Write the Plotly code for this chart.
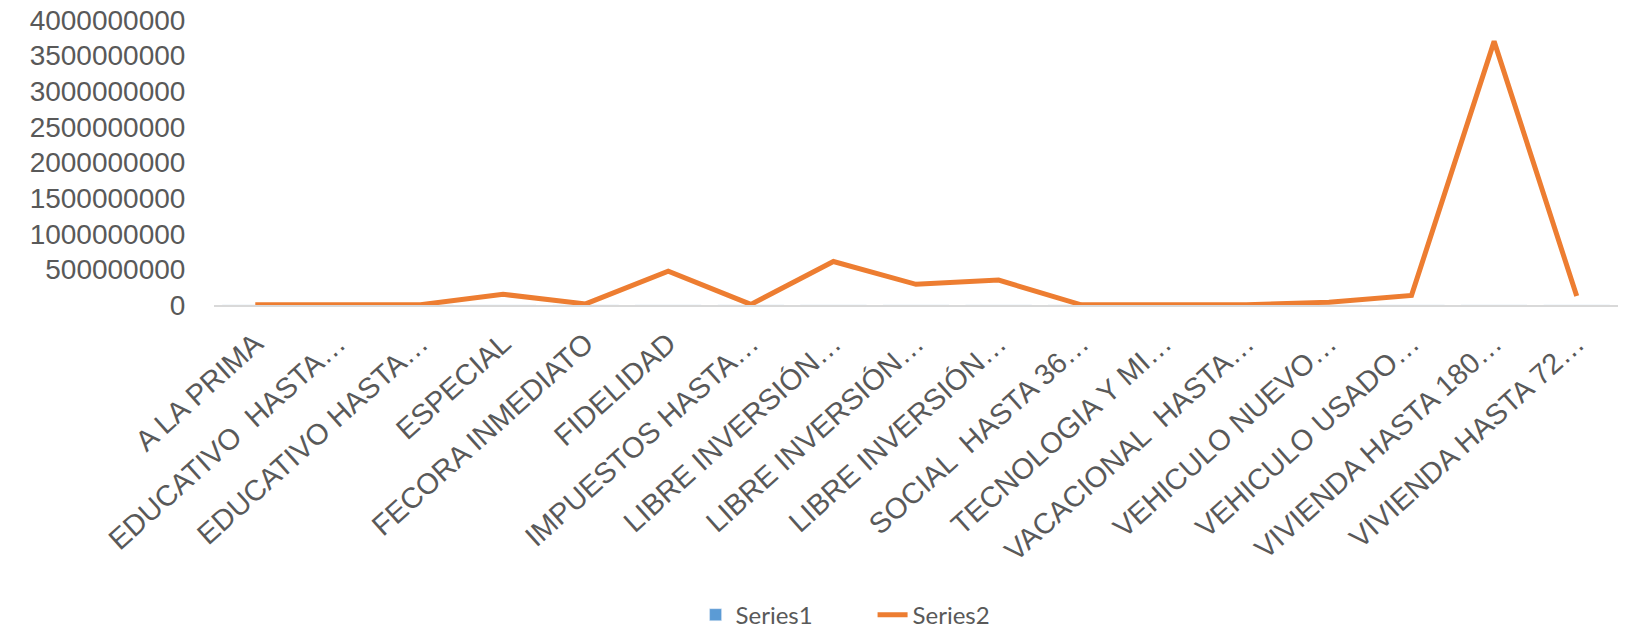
import plotly.graph_objects as go

categories = [
    "A LA PRIMA", "EDUCATIVO  HASTA…", "EDUCATIVO HASTA…", "ESPECIAL",
    "FECORA INMEDIATO", "FIDELIDAD", "IMPUESTOS HASTA…", "LIBRE INVERSIÓN…",
    "LIBRE INVERSIÓN…", "LIBRE INVERSIÓN…", "SOCIAL  HASTA 36…", "TECNOLOGIA Y MI…",
    "VACACIONAL  HASTA…", "VEHICULO NUEVO…", "VEHICULO USADO…", "VIVIENDA HASTA 180…",
    "VIVIENDA HASTA 72…",
]
series1 = [3, 1, 2, 12, 2, 40, 1, 55, 30, 34, 1, 1, 2, 4, 10, 60, 3]
series2 = [2000000, 3000000, 4000000, 150000000, 15000000, 475000000, 8000000,
           610000000, 290000000, 350000000, 3000000, 2000000, 4000000,
           40000000, 135000000, 3700000000, 125000000]
y_ticks = [0, 500000000, 1000000000, 1500000000, 2000000000,
           2500000000, 3000000000, 3500000000, 4000000000]

x = list(range(len(categories)))

fig = go.Figure()
fig.add_trace(go.Bar(x=x, y=series1, name="Series1", marker_color="#5B9BD5"))
fig.add_trace(go.Scatter(x=x, y=series2, name="Series2", mode="lines",
                         line=dict(color="#ED7D31", width=5)))

fig.update_layout(
    width=1632, height=630,
    margin=dict(l=214, r=14, t=20, b=325, autoexpand=False),
    plot_bgcolor="white", paper_bgcolor="white",
    showlegend=True,
    legend=dict(orientation="h", x=0.343, xanchor="left", y=-1.088, yanchor="middle",
                font=dict(family="Lato, Open Sans", size=24, color="#595959"),
                entrywidth=132, entrywidthmode="pixels"),
    xaxis=dict(range=[-0.5, 16.5], tickmode="array", tickvals=x, ticktext=categories,
               tickangle=-42,
               tickfont=dict(family="Liberation Sans, Arial", size=29, color="#595959"),
               showgrid=False, automargin=False,
               showline=True, linecolor="#D9D9D9", linewidth=2,
               ticks="outside", ticklen=8, tickcolor="rgba(0,0,0,0)",
               zeroline=False),
    yaxis=dict(range=[0, 4000000000], tickmode="array", tickvals=y_ticks,
               ticktext=[str(v) for v in y_ticks],
               tickfont=dict(family="Liberation Sans, Arial", size=28, color="#595959"),
               showgrid=False, zeroline=False, showline=False, automargin=False,
               ticks="outside", ticklen=22, tickcolor="rgba(0,0,0,0)"),
)

fig.write_html("out.html")
